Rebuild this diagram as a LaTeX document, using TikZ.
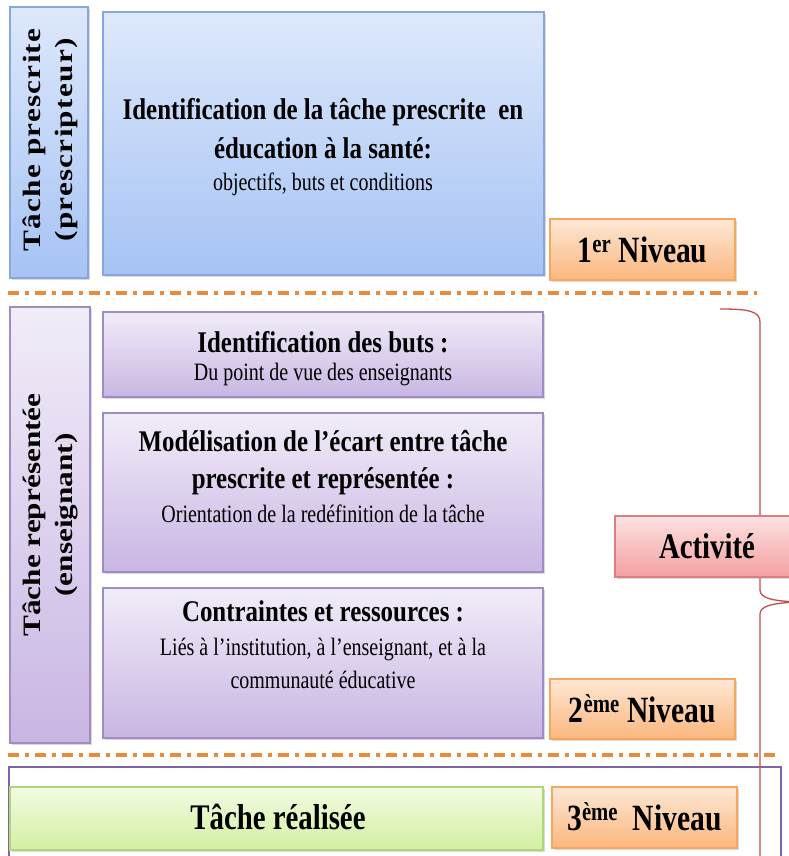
\documentclass[tikz,border=0pt]{standalone}
\usepackage{fontspec}
\setmainfont{Liberation Serif}[FakeStretch=0.8]
\newfontfamily\ttlfont{Liberation Serif}[FakeStretch=0.83]
\newfontfamily\rotfont{Liberation Serif}[FakeStretch=1.25]
\newfontfamily\rotfontB{Liberation Serif}[FakeStretch=1.25, LetterSpace=5]
\usetikzlibrary{shadows}
\definecolor{blueT}{HTML}{DDE8FB}
\definecolor{blueD}{HTML}{A6C3F4}
\definecolor{blueB}{HTML}{86A6DC}
\definecolor{purT}{HTML}{F1ECF8}
\definecolor{purD}{HTML}{C8B6E3}
\definecolor{purB}{HTML}{A08CC4}
\definecolor{orT}{HTML}{FDE7D5}
\definecolor{orD}{HTML}{FBB77D}
\definecolor{orB}{HTML}{F5A65F}
\definecolor{grT}{HTML}{F3FBE3}
\definecolor{grD}{HTML}{D2EFA0}
\definecolor{grB}{HTML}{B0D67C}
\definecolor{pkT}{HTML}{FDE1E1}
\definecolor{pkD}{HTML}{F4A0A0}
\definecolor{pkB}{HTML}{D88080}
\definecolor{sepC}{HTML}{E98A3C}
\definecolor{frameC}{HTML}{7E64A8}
\definecolor{braceC}{HTML}{C0504D}
\tikzset{
  box/.style={rectangle, inner sep=0pt, line width=1.2pt,
    drop shadow={shadow xshift=1.5pt, shadow yshift=-2pt, opacity=0.3}},
  bluebox/.style={box, draw=blueB, top color=blueT, bottom color=blueD},
  purbox/.style={box, draw=purB, top color=purT, bottom color=purD},
  orbox/.style={box, draw=orB, top color=orT, bottom color=orD},
  grbox/.style={box, draw=grB, top color=grT, bottom color=grD},
  pkbox/.style={box, draw=pkB, top color=pkT, bottom color=pkD},
  ttl/.style={anchor=base, inner sep=0pt, font=\ttlfont\bfseries\fontsize{30}{37}\selectfont},
  sub/.style={anchor=base, inner sep=0pt, font=\fontsize{25}{31}\selectfont},
  lvl/.style={anchor=base, inner sep=0pt, font=\bfseries\fontsize{37}{44}\selectfont},
  rot/.style={rotate=90, align=center, inner sep=0pt, font=\rotfont\bfseries\fontsize{25}{32}\selectfont},
  sepline/.style={draw=sepC, line width=4pt, dash pattern=on 11pt off 6pt on 4pt off 6pt},
}
\begin{document}
\begin{tikzpicture}[x=1pt, y=-1pt]
\useasboundingbox (0,0) rectangle (789,856);
\clip (0,0) rectangle (789,856);
% separators
\coordinate (s1a) at (8,293);
\coordinate (s1b) at (757,293);
\coordinate (s2a) at (8,755);
\coordinate (s2b) at (777,755);
\draw[sepline] (s1a) -- (s1b);
\draw[sepline] (s2a) -- (s2b);
% frame of level 3
\coordinate (fr1) at (9,767);
\coordinate (fr2) at (781,880);
\draw[frameC, line width=2.5pt] (fr1) rectangle (fr2);
% brace
\coordinate (br0) at (720,309);
\coordinate (brtip) at (798,602);
\coordinate (brend) at (760,870);
\draw[braceC, line width=1.3pt] (br0) .. controls (748,309) and (760,311) .. (760,322)
  -- (760,590) .. controls (760,598) and (772,601) .. (brtip)
  .. controls (772,603) and (760,606) .. (760,614) -- (brend);
% level 1
\node[bluebox, minimum width=78pt, minimum height=271pt] (tp) at (49,142.5) {};
\node[rot, font=\rotfontB\bfseries\fontsize{25}{32}\selectfont] (tpt) at (50,140) {Tâche prescrite\\(prescripteur)};
\node[bluebox, minimum width=441pt, minimum height=263pt] (b1) at (323.5,143.5) {};
\node[ttl] (b1a) at (323,120) {Identification de la tâche prescrite\ \ en};
\node[ttl] (b1b) at (323,158) {éducation à la santé:};
\node[sub] (b1c) at (323,190) {objectifs, buts et conditions};
\node[orbox, minimum width=185pt, minimum height=61pt] (n1) at (642.5,249.5) {};
\node[lvl] (n1t) at (642.5,262) {1\textsuperscript{er} Niveau};
% level 2
\node[purbox, minimum width=80pt, minimum height=436pt] (tr) at (50,525) {};
\node[rot] (trt) at (50,515) {Tâche représentée\\(enseignant)};
\node[purbox, minimum width=440pt, minimum height=85pt] (p1) at (323,354.5) {};
\node[ttl] (p1a) at (323,352) {Identification des buts :};
\node[sub] (p1b) at (323,380) {Du point de vue des enseignants};
\node[purbox, minimum width=440pt, minimum height=159pt] (p2) at (323,492.5) {};
\node[ttl] (p2a) at (323,451) {Modélisation de l’écart entre tâche};
\node[ttl] (p2b) at (323,488) {prescrite et représentée :};
\node[sub] (p2c) at (323,522) {Orientation de la redéfinition de la tâche};
\node[purbox, minimum width=440pt, minimum height=150pt] (p3) at (323,663) {};
\node[ttl] (p3a) at (323,621) {Contraintes et ressources :};
\node[sub] (p3b) at (323,655) {Liés à l’institution, à l’enseignant, et à la};
\node[sub] (p3c) at (323,688) {communauté éducative};
\node[orbox, minimum width=185pt, minimum height=60pt] (n2) at (642.5,709) {};
\node[lvl] (n2t) at (642.5,722) {2\textsuperscript{ème} Niveau};
% activity
\node[pkbox, minimum width=185pt, minimum height=61pt] (act) at (707.5,546.5) {};
\node[lvl, font=\bfseries\fontsize{36}{42}\selectfont] (actt) at (707,558) {Activité};
% level 3
\node[grbox, minimum width=533pt, minimum height=63pt] (g) at (276.5,818.5) {};
\node[lvl, font=\bfseries\fontsize{36}{42}\selectfont] (gt) at (278,829) {Tâche réalisée};
\node[orbox, minimum width=185pt, minimum height=61pt] (n3) at (644.5,817.5) {};
\node[lvl] (n3t) at (644.5,830) {3\textsuperscript{ème}\ \ Niveau};
\end{tikzpicture}
\end{document}
